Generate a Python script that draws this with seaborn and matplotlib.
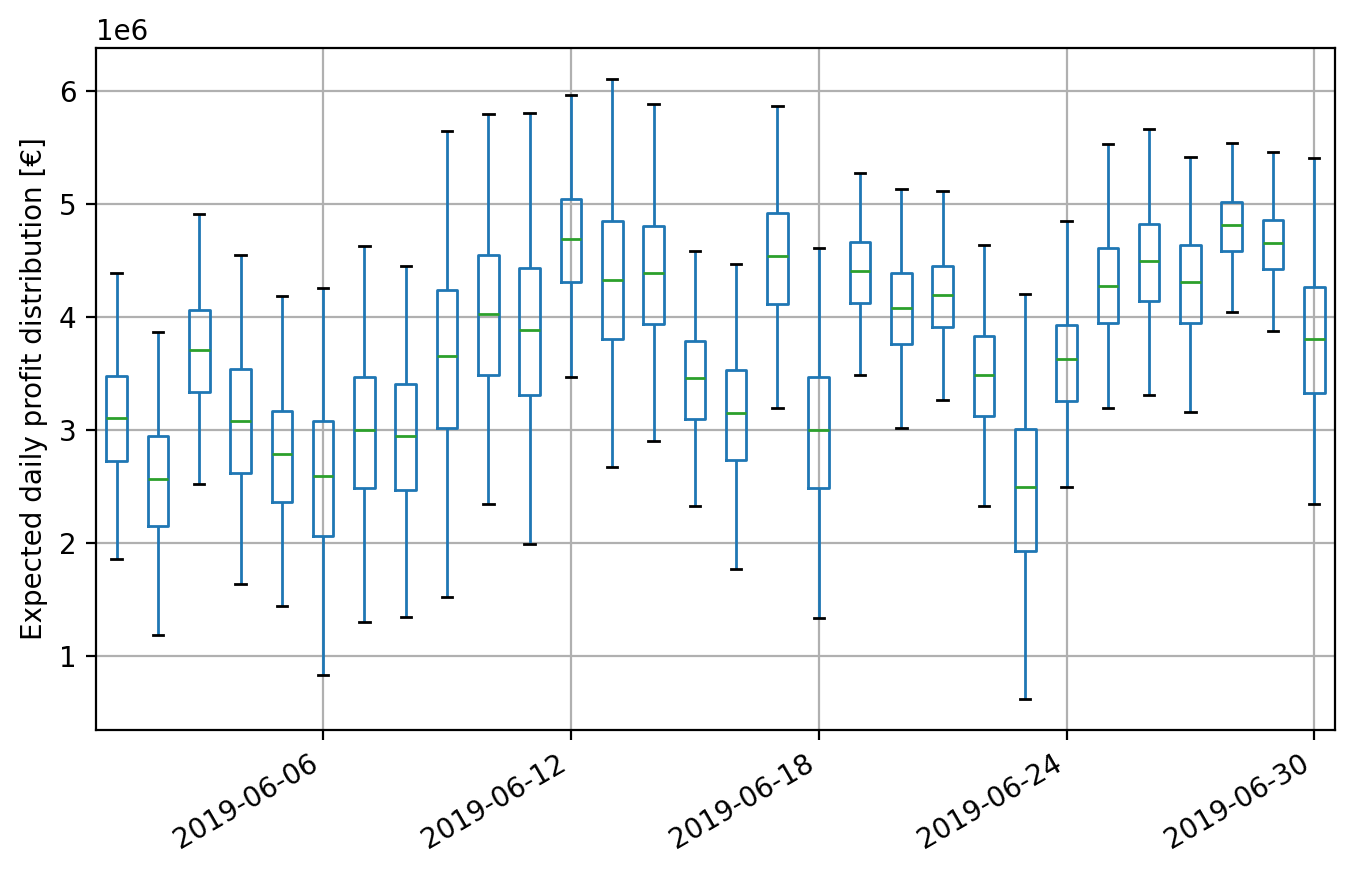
import matplotlib
matplotlib.use("Agg")
import matplotlib.pyplot as plt
import matplotlib.dates as mdates
import numpy as np
import pandas as pd
import seaborn as sns

# daily profit distribution (values in 1e6 €)
days = pd.date_range("2019-06-01", "2019-06-30", freq="D")
whis_lo = [1.86, 1.19, 2.52, 1.64, 1.44, 0.83, 1.30, 1.35, 1.52, 2.35,
           1.99, 3.47, 2.67, 2.90, 2.33, 1.77, 3.20, 1.34, 3.49, 3.02,
           3.27, 2.33, 0.62, 2.50, 3.20, 3.31, 3.16, 4.05, 3.88, 2.35]
q1 = [2.73, 2.15, 3.34, 2.62, 2.36, 2.06, 2.49, 2.47, 3.02, 3.49,
      3.31, 4.31, 3.81, 3.94, 3.10, 2.74, 4.12, 2.49, 4.13, 3.76,
      3.91, 3.13, 1.93, 3.26, 3.95, 4.14, 3.95, 4.59, 4.43, 3.33]
median = [3.11, 2.57, 3.71, 3.08, 2.79, 2.59, 3.00, 2.95, 3.66, 4.03,
          3.89, 4.69, 4.33, 4.39, 3.46, 3.15, 4.54, 3.00, 4.41, 4.08,
          4.20, 3.49, 2.50, 3.63, 4.28, 4.50, 4.31, 4.82, 4.66, 3.81]
q3 = [3.48, 2.95, 4.06, 3.54, 3.17, 3.08, 3.47, 3.41, 4.24, 4.55,
      4.44, 5.05, 4.85, 4.81, 3.79, 3.53, 4.92, 3.47, 4.67, 4.39,
      4.45, 3.83, 3.01, 3.93, 4.61, 4.83, 4.64, 5.02, 4.86, 4.27]
whis_hi = [4.39, 3.87, 4.91, 4.55, 4.19, 4.26, 4.63, 4.45, 5.65, 5.80,
           5.81, 5.97, 6.11, 5.89, 4.59, 4.47, 5.87, 4.61, 5.28, 5.14,
           5.12, 4.64, 4.21, 4.85, 5.53, 5.67, 5.42, 5.54, 5.46, 5.41]

# five points per day reproduce exactly the box stats (whiskers at min/max)
x = mdates.date2num(days.to_pydatetime())
rows = []
for i in range(len(days)):
    for v in (whis_lo[i], q1[i], median[i], q3[i], whis_hi[i]):
        rows.append({"date": x[i], "profit": v * 1e6})
df = pd.DataFrame(rows)

fig, ax = plt.subplots(figsize=(6.78, 4.37), dpi=200)
fig.subplots_adjust(left=0.0708, right=0.9845, top=0.9451, bottom=0.1648)

sns.boxplot(data=df, x="date", y="profit", native_scale=True, orient="x",
            whis=np.inf, width=0.5, fill=False, color="#1f77b4",
            linewidth=1.0,
            medianprops=dict(color="#2ca02c"),
            capprops=dict(color="black"),
            ax=ax)

ax.set_xlim(x[0] - 0.5, x[-1] + 0.5)
ticks = [d for d in days if d.day in (6, 12, 18, 24, 30)]
ax.set_xticks(mdates.date2num([d.to_pydatetime() for d in ticks]))
ax.xaxis.set_major_formatter(mdates.DateFormatter("%Y-%m-%d"))
plt.setp(ax.get_xticklabels(), rotation=30, ha="right")

ax.set_xlabel("")
ax.set_ylabel("Expected daily profit distribution [€]")
ax.grid(True, color="#b0b0b0", linewidth=0.8)
ax.set_axisbelow(True)

plt.savefig("out.png", dpi=200)
plt.close()
